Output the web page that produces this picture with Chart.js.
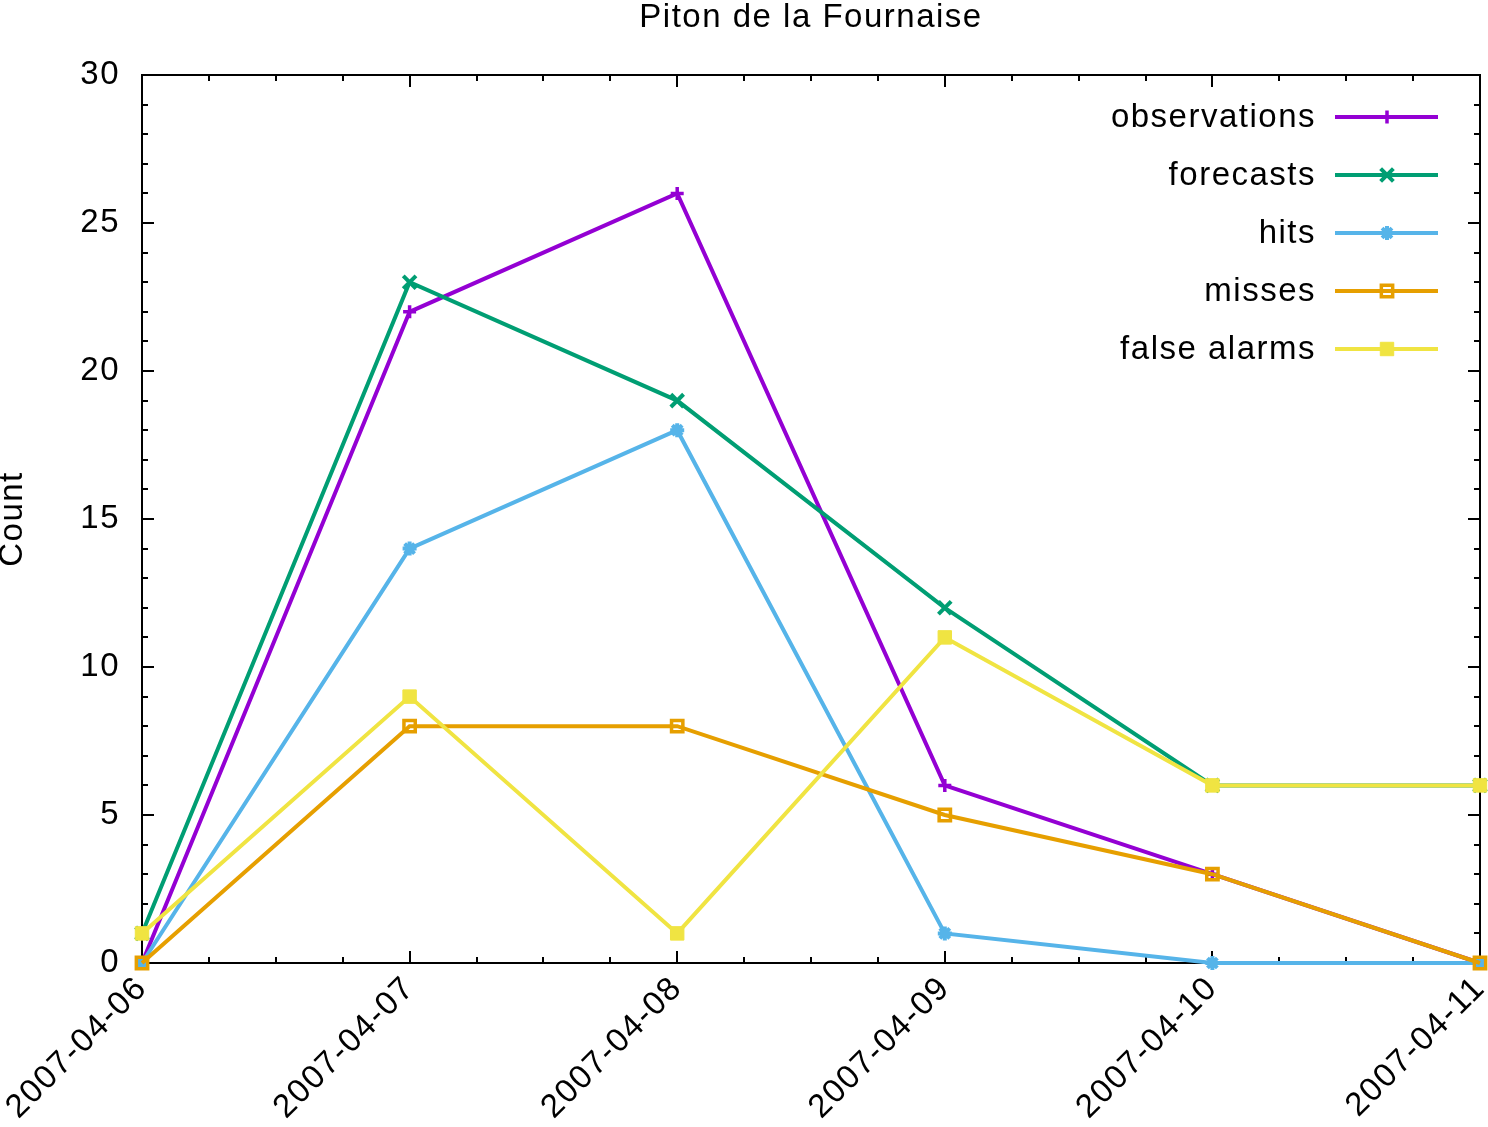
<!DOCTYPE html>
<html><head><meta charset="utf-8">
<style>html,body{margin:0;padding:0;background:#fff;overflow:hidden}</style>
<script src="https://cdn.jsdelivr.net/npm/chart.js@4/dist/chart.umd.min.js"></script>
</head><body>
<canvas id="c" width="1488" height="1127" style="display:block;width:1488px;height:1127px"></canvas>
<script>
const categories = ['2007-04-06','2007-04-07','2007-04-08','2007-04-09','2007-04-10','2007-04-11'];
const seriesNames = ['observations','forecasts','hits','misses','false alarms'];
const observations = [0, 22, 26, 6, 3, 0];
const forecasts = [1, 23, 19, 12, 6, 6];
const hits = [0, 14, 18, 1, 0, 0];
const misses = [0, 8, 8, 5, 3, 0];
const falseAlarms = [1, 9, 1, 11, 6, 6];
const yMin = 0, yMax = 30, yStep = 5;
const chartTitle = 'Piton de la Fournaise';
const yTitle = 'Count';

const FONT = '"Liberation Sans", Arial, Helvetica, sans-serif';
const FS = 33;
const LS = '1.5px';

const styles = [
  {color:'#9400d3', pointStyle:'cross', radius:6.5, bg:'#9400d3', pbw:3.5},
  {color:'#009e73', pointStyle:'crossRot', radius:9, bg:'#009e73', pbw:4},
  {color:'#56b4e9', pointStyle:'star', radius:7, bg:'#56b4e9', pbw:4},
  {color:'#e69f00', pointStyle:'rect', radius:8, bg:'rgba(0,0,0,0)', pbw:3.5},
  {color:'#f0e442', pointStyle:'rect', radius:9.5, bg:'#f0e442', pbw:1}
];
const values = [observations, forecasts, hits, misses, falseAlarms];
const LW = 4;

const datasets = values.map((v, i) => ({
  label: seriesNames[i],
  data: v,
  borderColor: styles[i].color,
  backgroundColor: styles[i].bg,
  borderWidth: LW,
  pointStyle: styles[i].pointStyle,
  pointRadius: styles[i].radius,
  pointHoverRadius: styles[i].radius,
  pointBorderWidth: styles[i].pbw,
  pointBorderColor: styles[i].color,
  pointBackgroundColor: styles[i].bg,
  tension: 0,
  fill: false,
  clip: false,
  order: values.length - i
}));

function setSpacing(chart){ try { chart.ctx.letterSpacing = LS; } catch(e){} }

const gnuplotPlugin = {
  id: 'gnuplotFrame',
  beforeUpdate: setSpacing,
  beforeLayout: setSpacing,
  beforeDraw(chart){ setSpacing(chart); },
  beforeDatasetsDraw(chart){
    const ctx = chart.ctx, a = chart.chartArea;
    const xs = chart.scales.x, ys = chart.scales.y;
    ctx.save();
    ctx.strokeStyle = '#000';
    ctx.lineWidth = 2;
    ctx.beginPath();
    for (let v = yMin; v <= yMax; v += 1) {
      const y = Math.round(ys.getPixelForValue(v));
      const len = (v % yStep === 0) ? 12 : 6;
      ctx.moveTo(a.left, y); ctx.lineTo(a.left + len, y);
      ctx.moveTo(a.right, y); ctx.lineTo(a.right - len, y);
    }
    for (let i = 0; i < categories.length; i++) {
      for (let j = 0; j < 4; j++) {
        if (i === categories.length - 1 && j > 0) break;
        const x = Math.round(xs.getPixelForValue(i + j / 4));
        const len = j === 0 ? 12 : 6;
        ctx.moveTo(x, a.bottom); ctx.lineTo(x, a.bottom - len);
        ctx.moveTo(x, a.top); ctx.lineTo(x, a.top + len);
      }
    }
    ctx.stroke();
    ctx.strokeRect(a.left, a.top, a.right - a.left, a.bottom - a.top);
    ctx.restore();
  },
  afterDatasetsDraw(chart){
    const ctx = chart.ctx, a = chart.chartArea;
    ctx.save();
    setSpacing(chart);
    ctx.fillStyle = '#000';
    ctx.font = FS + 'px ' + FONT;
    ctx.textAlign = 'center';
    ctx.textBaseline = 'alphabetic';
    ctx.fillText(chartTitle, (a.left + a.right) / 2, 27);
    for (let i = 0; i < seriesNames.length; i++) {
      const ly = 117 + i * 58;
      ctx.fillStyle = '#000';
      ctx.textAlign = 'right';
      ctx.fillText(seriesNames[i], 1316, ly + 10);
      ctx.strokeStyle = styles[i].color;
      ctx.lineWidth = LW;
      ctx.beginPath();
      ctx.moveTo(1335, ly); ctx.lineTo(1438, ly);
      ctx.stroke();
      ctx.fillStyle = styles[i].bg;
      ctx.lineWidth = styles[i].pbw;
      Chart.helpers.drawPoint(ctx, {pointStyle: styles[i].pointStyle, radius: styles[i].radius, rotation: 0, borderWidth: styles[i].pbw}, 1387, ly);
    }
    ctx.restore();
  }
};

new Chart(document.getElementById('c'), {
  type: 'line',
  data: { labels: categories, datasets },
  plugins: [gnuplotPlugin],
  options: {
    responsive: false,
    animation: false,
    devicePixelRatio: 1,
    layout: { autoPadding: false, padding: { top: 75, right: 8, left: 0, bottom: 0 } },
    plugins: { legend: { display: false }, title: { display: false }, tooltip: { enabled: false } },
    events: [],
    scales: {
      x: {
        type: 'category',
        offset: false,
        grid: { display: false, drawTicks: false },
        border: { display: false },
        ticks: { autoSkip: false, maxRotation: 45, minRotation: 45, color: '#000', padding: 6, font: { family: FONT, size: FS } },
        afterFit(scale){ scale.height = 164; scale.paddingLeft = 0; scale.paddingRight = 0; }
      },
      y: {
        type: 'linear',
        min: yMin, max: yMax,
        grid: { display: false, drawTicks: false },
        border: { display: false },
        ticks: { stepSize: yStep, color: '#000', padding: 22, font: { family: FONT, size: FS } },
        title: { display: true, text: yTitle, color: '#000', padding: 0, font: { family: FONT, size: FS, lineHeight: 0.8 } },
        afterFit(scale){ scale.width = 142; scale.paddingTop = 0; scale.paddingBottom = 0; }
      }
    }
  }
});
</script>
</body></html>
